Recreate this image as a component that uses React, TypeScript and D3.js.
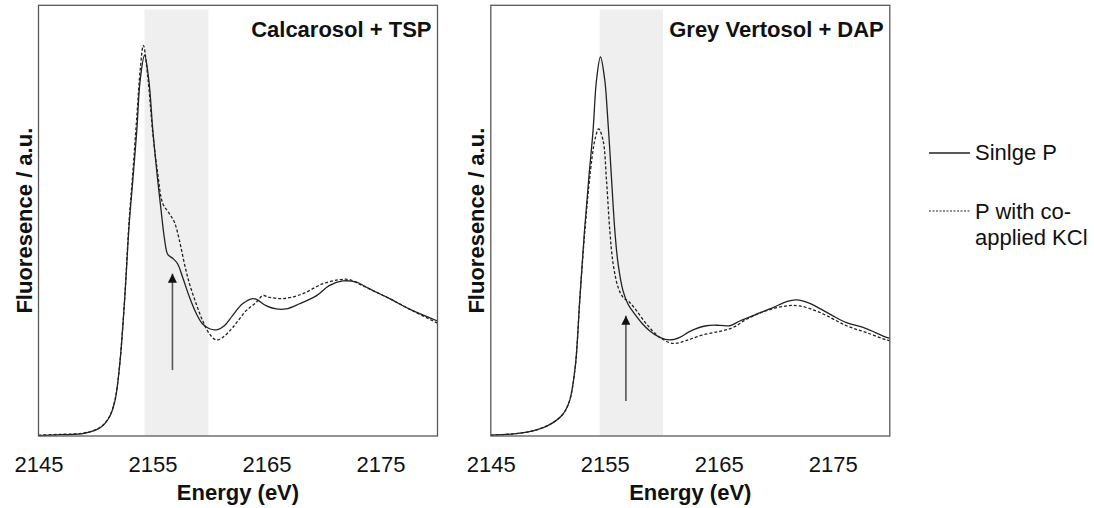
import React, { useEffect, useRef } from "react";
import * as d3 from "d3";

// energy (eV), normalised fluorescence
const calcSingle: [number, number][] = [
  [2145, 0.001], [2147, 0.003], [2149, 0.006], [2150.4, 0.019], [2151.2, 0.043], [2151.7, 0.081],
  [2152.1, 0.159], [2152.55, 0.314], [2152.95, 0.49], [2153.27, 0.593], [2153.62, 0.709], [2153.92, 0.826],
  [2154.3, 0.884], [2154.68, 0.826], [2155.03, 0.709], [2155.46, 0.593], [2155.75, 0.525], [2156.05, 0.458],
  [2156.35, 0.421], [2156.8, 0.412], [2157.2, 0.4], [2157.65, 0.368], [2158.25, 0.322], [2158.85, 0.284],
  [2159.4, 0.26], [2160.0, 0.249], [2160.7, 0.247], [2161.3, 0.256], [2162.0, 0.279], [2162.9, 0.307],
  [2163.8, 0.319], [2164.2, 0.316], [2165.0, 0.302], [2165.85, 0.295], [2166.7, 0.295], [2167.9, 0.307],
  [2169.4, 0.326], [2170.5, 0.349], [2171.7, 0.36], [2172.9, 0.357], [2174.0, 0.342], [2175.8, 0.319],
  [2177.5, 0.295], [2180, 0.267],
];
const calcKCl: [number, number][] = [
  [2145, 0.002], [2147, 0.004], [2149, 0.007], [2150.4, 0.02], [2151.2, 0.044], [2151.7, 0.083],
  [2152.1, 0.16], [2152.55, 0.316], [2152.95, 0.5], [2153.27, 0.61], [2153.62, 0.74], [2153.92, 0.85],
  [2154.2, 0.907], [2154.59, 0.833], [2155.03, 0.702], [2155.46, 0.609], [2155.9, 0.54], [2156.49, 0.516],
  [2156.93, 0.496], [2157.37, 0.453], [2157.8, 0.4], [2158.25, 0.353], [2158.83, 0.307], [2159.41, 0.267],
  [2160.0, 0.237], [2160.59, 0.223], [2161.17, 0.229], [2162.04, 0.252], [2163.22, 0.291], [2164.1, 0.31],
  [2164.68, 0.326], [2165.26, 0.322], [2166.43, 0.319], [2168.16, 0.33], [2169.9, 0.353], [2171.4, 0.363],
  [2172.28, 0.363], [2173.42, 0.349], [2175.79, 0.319], [2177.8, 0.291], [2180, 0.262],
];
const vertSingle: [number, number][] = [
  [2145, 0.002], [2147, 0.005], [2148.7, 0.012], [2150.2, 0.027], [2151.3, 0.05], [2151.9, 0.081],
  [2152.4, 0.159], [2152.8, 0.314], [2153.2, 0.47], [2153.6, 0.6], [2153.97, 0.709], [2154.27, 0.826],
  [2154.62, 0.88], [2155.0, 0.826], [2155.2, 0.76], [2155.4, 0.68], [2155.6, 0.593], [2155.88, 0.477],
  [2156.17, 0.399], [2156.6, 0.337], [2157.04, 0.306], [2157.63, 0.283], [2158.22, 0.263], [2158.95, 0.244],
  [2159.82, 0.229], [2160.7, 0.223], [2161.58, 0.229], [2162.46, 0.243], [2163.92, 0.256], [2165.09, 0.257],
  [2165.96, 0.256], [2166.84, 0.267], [2168.31, 0.283], [2169.76, 0.298], [2170.94, 0.312], [2171.82, 0.316],
  [2172.98, 0.308], [2174.74, 0.283], [2176.2, 0.263], [2177.66, 0.252], [2179.71, 0.229], [2180, 0.227],
];
const vertKCl: [number, number][] = [
  [2145, 0.002], [2147, 0.005], [2148.7, 0.012], [2150.2, 0.027], [2151.3, 0.05], [2151.9, 0.081],
  [2152.4, 0.159], [2152.8, 0.314], [2153.2, 0.46], [2153.6, 0.58], [2153.9, 0.65], [2154.15, 0.69],
  [2154.46, 0.713], [2154.85, 0.686], [2155.15, 0.593], [2155.44, 0.477], [2155.73, 0.4], [2156.17, 0.345],
  [2156.6, 0.322], [2157.19, 0.31], [2157.78, 0.291], [2158.66, 0.26], [2159.82, 0.229], [2160.99, 0.215],
  [2162.17, 0.222], [2163.62, 0.235], [2165.09, 0.243], [2166.25, 0.252], [2167.43, 0.271], [2169.18, 0.291],
  [2170.94, 0.302], [2172.1, 0.302], [2173.86, 0.287], [2176.2, 0.256], [2177.96, 0.24], [2179.71, 0.223],
  [2180, 0.221],
];

const xTicks = [2145, 2155, 2165, 2175];
const titles = ["Calcarosol + TSP", "Grey Vertosol + DAP"];
const bands: [number, number][] = [[2154.3, 2159.9], [2154.55, 2160.1]];
// arrow: energy, start value, tip value
const arrows: [number, number, number][] = [[2156.75, 0.153, 0.377], [2156.85, 0.081, 0.279]];
const legendLabels = ["Sinlge P", "P with co-", "applied KCl"];

const FONT = "'Liberation Sans', Arial, sans-serif";

export default function App() {
  const ref = useRef<SVGSVGElement>(null);

  useEffect(() => {
    const width = 1094;
    const height = 508;
    const svg = d3.select(ref.current).attr("width", width).attr("height", height);
    svg.selectAll("*").remove();

    const panelW = 399;
    const top = 5.3;
    const bottom = 436;
    const lefts = [38.5, 490.8];
    const panels = [
      { single: calcSingle, kcl: calcKCl },
      { single: vertSingle, kcl: vertKCl },
    ];

    const defs = svg.append("defs");
    defs.append("marker")
      .attr("id", "head")
      .attr("viewBox", "0 0 10 10")
      .attr("refX", 10).attr("refY", 5)
      .attr("markerWidth", 9).attr("markerHeight", 9)
      .attr("markerUnits", "userSpaceOnUse")
      .attr("orient", "auto")
      .append("path").attr("d", "M0,0L10,5L0,10Z").attr("fill", "#111");

    panels.forEach((p, i) => {
      const x = d3.scaleLinear().domain([2145, 2180]).range([lefts[i], lefts[i] + panelW]);
      const y = d3.scaleLinear().domain([0, 1]).range([bottom, top]);
      const g = svg.append("g");

      // shaded region
      g.append("rect")
        .attr("x", x(bands[i][0]))
        .attr("y", y(0.99))
        .attr("width", x(bands[i][1]) - x(bands[i][0]))
        .attr("height", y(0) - y(0.99))
        .attr("fill", "#efefef");

      const line = d3.line<[number, number]>()
        .x(d => x(d[0]))
        .y(d => y(d[1]))
        .curve(d3.curveCatmullRom.alpha(0.5));

      g.append("path").datum(p.kcl).attr("d", line)
        .attr("fill", "none").attr("stroke", "#222").attr("stroke-width", 1.3)
        .attr("stroke-dasharray", "3,2");
      g.append("path").datum(p.single).attr("d", line)
        .attr("fill", "none").attr("stroke", "#222").attr("stroke-width", 1.3);

      // arrow
      const a = arrows[i];
      g.append("line")
        .attr("x1", x(a[0])).attr("x2", x(a[0]))
        .attr("y1", y(a[1])).attr("y2", y(a[2]))
        .attr("stroke", "#555").attr("stroke-width", 1.6)
        .attr("marker-end", "url(#head)");

      // frame
      g.append("rect")
        .attr("x", lefts[i]).attr("y", top)
        .attr("width", panelW).attr("height", bottom - top)
        .attr("fill", "none").attr("stroke", "#595959").attr("stroke-width", 1.3);

      const axis = d3.axisBottom(x).tickValues(xTicks).tickSize(0).tickPadding(20).tickFormat(d3.format("d"));
      const ag = g.append("g").attr("transform", `translate(0,${bottom})`).call(axis);
      ag.select(".domain").remove();
      ag.selectAll("text").attr("font-family", FONT).attr("font-size", 22).attr("fill", "#111");

      g.append("text")
        .attr("x", lefts[i] + panelW - 6).attr("y", 36.5)
        .attr("text-anchor", "end")
        .attr("font-family", FONT).attr("font-size", 22).attr("font-weight", "bold")
        .attr("fill", "#111")
        .text(titles[i]);

      g.append("text")
        .attr("x", lefts[i] + panelW / 2).attr("y", 500)
        .attr("text-anchor", "middle")
        .attr("font-family", FONT).attr("font-size", 22).attr("font-weight", "bold")
        .attr("fill", "#111")
        .text("Energy (eV)");

      g.append("text")
        .attr("transform", `translate(${lefts[i] - 7},${(top + bottom) / 2}) rotate(-90)`)
        .attr("text-anchor", "middle")
        .attr("font-family", FONT).attr("font-size", 22).attr("font-weight", "bold")
        .attr("fill", "#111")
        .text("Fluoresence / a.u.");
    });

    // legend
    const lg = svg.append("g");
    lg.append("line").attr("x1", 929).attr("x2", 970).attr("y1", 153).attr("y2", 153)
      .attr("stroke", "#222").attr("stroke-width", 1.3);
    lg.append("line").attr("x1", 929).attr("x2", 970).attr("y1", 211).attr("y2", 211)
      .attr("stroke", "#222").attr("stroke-width", 1.1).attr("stroke-dasharray", "2,1.5");
    [160, 219, 245].forEach((yy, k) => {
      lg.append("text")
        .attr("x", 975).attr("y", yy)
        .attr("font-family", FONT).attr("font-size", 22).attr("fill", "#111")
        .text(legendLabels[k]);
    });
  }, []);

  return (
    <svg ref={ref} style={{ position: "absolute", left: 0, top: 0, background: "#fff" }}></svg>
  );
}
